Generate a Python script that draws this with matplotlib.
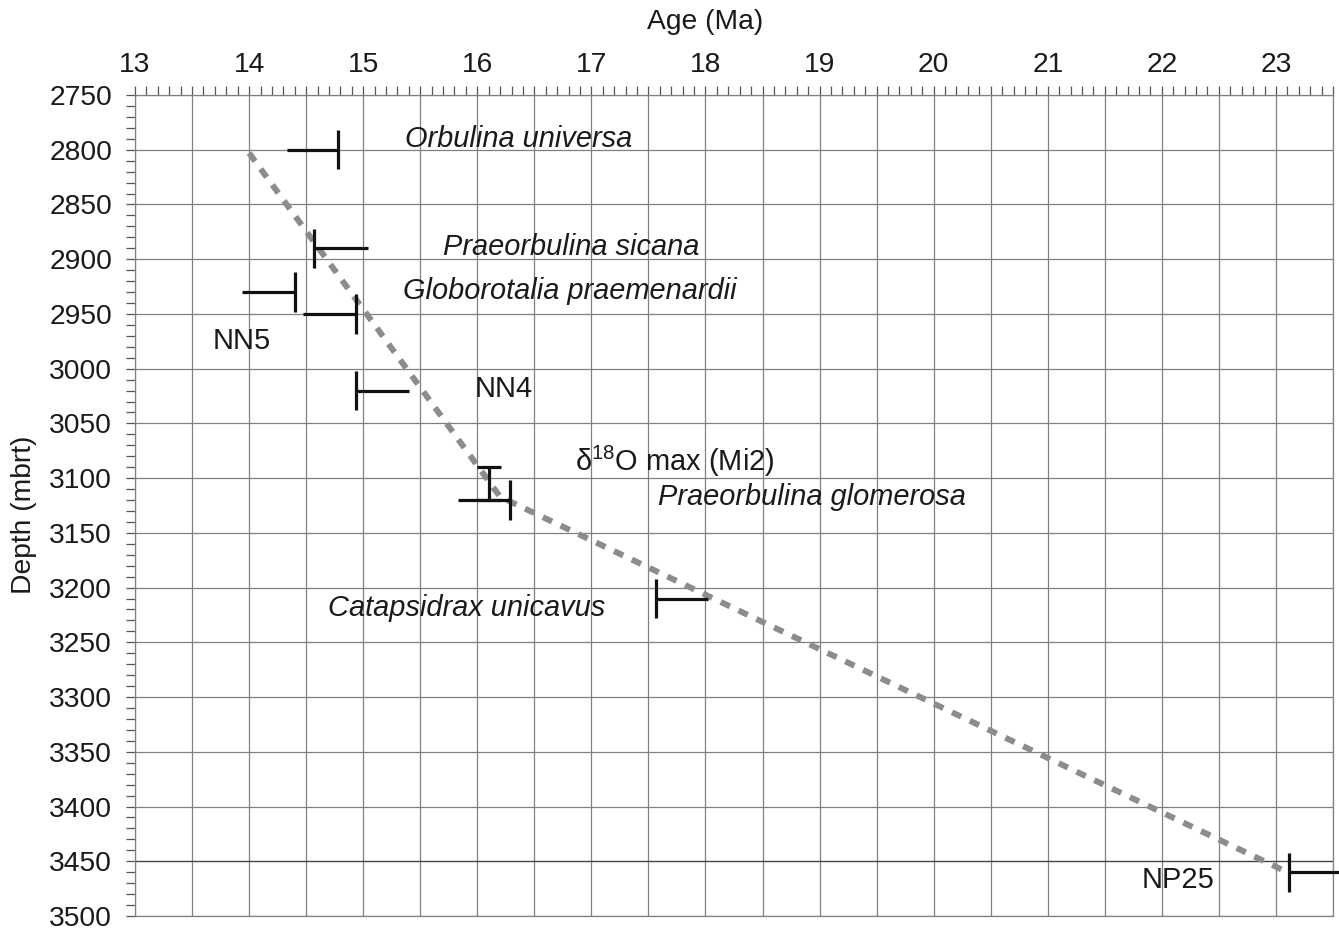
import matplotlib
matplotlib.use("Agg")
import matplotlib.pyplot as plt
from matplotlib.ticker import MultipleLocator, FuncFormatter

plt.rcParams['font.family'] = ['Liberation Sans', 'DejaVu Sans']

# ---- data ----
# biostratigraphic / isotope datums: age of the bar, age at the end of the tail, depth
datum_names = ["Orbulina universa", "Praeorbulina sicana", "Globorotalia praemenardii",
               "NN5", "NN4", "Praeorbulina glomerosa", "Catapsidrax unicavus", "NP25"]
datum_bar_age = [14.78, 14.57, 14.40, 14.94, 14.94, 16.29, 17.57, 23.11]
datum_tail_age = [14.33, 15.04, 13.94, 14.47, 15.40, 15.83, 18.02, 23.62]
datum_depth = [2800, 2890, 2930, 2950, 3020, 3120, 3210, 3460]
datum_halfspan = 18  # m

# delta18O maximum (Mi2) depth range
d18o_age = 16.10
d18o_depth_top = 3090
d18o_depth_bot = 3120

# age model (dashed line)
model_age = [14.0, 16.2, 23.1]
model_depth = [2803, 3117, 3460]

# labels: text, age, depth, italic
label_text = ["Orbulina universa", "Praeorbulina sicana", "Globorotalia praemenardii",
              "NN5", "NN4", r"$\mathregular{\delta^{18}}$O max (Mi2)", "Praeorbulina glomerosa",
              "Catapsidrax unicavus", "NP25"]
label_age = [15.37, 15.70, 15.35, 13.68, 15.98, 16.86, 17.58, 14.69, 21.82]
label_depth = [2790, 2889, 2929, 2975, 3019, 3085, 3117, 3219, 3467]
label_italic = [True, True, True, False, False, False, True, True, False]

x_ticks = list(range(13, 24))
x_tick_labels = [str(v) for v in x_ticks]
y_ticks = list(range(2750, 3501, 50))

# ---- figure ----
W, H = 1339, 933
fig = plt.figure(figsize=(W / 100, H / 100), dpi=100)
ax = fig.add_axes([135 / W, 1 - 916 / H, (1333 - 135) / W, (916 - 95) / H])

ax.set_xlim(13, 23.5)
ax.set_ylim(3500, 2750)

grid_c = '#808080'
tick_c = '#555555'
txt_c = '#1a1a1a'

ax.xaxis.set_ticks_position('top')
ax.xaxis.set_label_position('top')
ax.xaxis.set_major_locator(MultipleLocator(0.5))
ax.xaxis.set_minor_locator(MultipleLocator(0.1))
ax.xaxis.set_major_formatter(FuncFormatter(
    lambda v, p: x_tick_labels[x_ticks.index(int(round(v)))] if abs(v - round(v)) < 1e-6 and int(round(v)) in x_ticks else ""))
ax.yaxis.set_major_locator(MultipleLocator(50))
ax.yaxis.set_minor_locator(MultipleLocator(10))
ax.set_yticks(y_ticks)

ax.tick_params(axis='x', which='both', direction='out', length=6.5, width=0.9, color=tick_c,
               labelsize=20.3, labelcolor=txt_c, pad=6)
ax.tick_params(axis='y', which='both', direction='out', length=6.5, width=0.9, color=tick_c,
               labelsize=20.3, labelcolor=txt_c, pad=10)

ax.grid(True, which='major', color=grid_c, lw=0.9)
ax.set_axisbelow(True)
for s in ax.spines.values():
    s.set_color(grid_c)
    s.set_linewidth(0.9)
ax.axhline(3450, color='#444444', lw=0.9, zorder=1)

ax.set_xlabel("Age (Ma)", fontsize=20.3, color=txt_c)
ax.xaxis.set_label_coords((705 - 135) / 1198, 1 + (95 - 22) / 821)
ax.xaxis.label.set_va('center')
ax.set_ylabel("Depth (mbrt)", fontsize=20.3, color=txt_c)
ax.yaxis.set_label_coords((24 - 135) / 1198, 1 - (515 - 95) / 821)
ax.yaxis.label.set_va('center')

# age model
ax.plot(model_age, model_depth, color='#8c8c8c', lw=4.3, linestyle=(0, (1.7, 1.6)),
        dash_capstyle='butt', zorder=3)

# datums
for ba, ta, d in zip(datum_bar_age, datum_tail_age, datum_depth):
    ax.plot([ta, ba], [d, d], color='#111111', lw=2.3, solid_capstyle='butt', zorder=4, clip_on=False)
    ax.plot([ba, ba], [d - datum_halfspan, d + datum_halfspan], color='#111111', lw=2.3,
            solid_capstyle='butt', zorder=4, clip_on=False)

# d18O range
ax.errorbar([d18o_age], [(d18o_depth_top + d18o_depth_bot) / 2],
            yerr=[(d18o_depth_bot - d18o_depth_top) / 2], fmt='none', ecolor='#111111',
            elinewidth=2.3, capsize=8.3, capthick=2.3, zorder=4)

for t, a, d, it in zip(label_text, label_age, label_depth, label_italic):
    ax.text(a, d, t, fontsize=20.9, color=txt_c, ha='left', va='center',
            style='italic' if it else 'normal', zorder=5)

fig.savefig("out.png", dpi=100)
